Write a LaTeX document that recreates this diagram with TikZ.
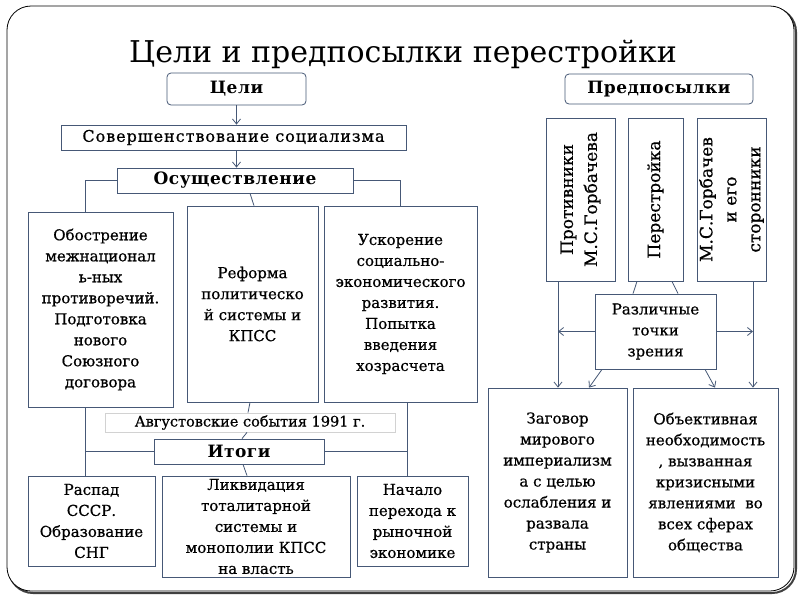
\documentclass[tikz,border=0pt]{standalone}
\usepackage{fontspec}
\setmainfont{DejaVu Serif}
\usetikzlibrary{arrows.meta}

\definecolor{slate}{RGB}{70,88,118}
\definecolor{pale}{RGB}{210,210,210}

\begin{document}
\begin{tikzpicture}[
  x=1pt, y=-1pt,
  box/.style={rectangle, draw=slate, line width=0.8pt, fill=white, align=center, inner sep=1pt,
    font=\fontsize{15}{21}\selectfont\addfontfeature{FakeBold=0.6}},
  tag/.style={box, rounded corners=4pt, font=\fontsize{17}{20}\selectfont\bfseries\addfontfeature{LetterSpace=3}},
  bar/.style={box, font=\fontsize{17}{20}\selectfont\bfseries\addfontfeature{LetterSpace=3}},
  side/.style={box, rotate=90, font=\fontsize{17}{24}\selectfont\addfontfeature{FakeBold=0.6}},
  link/.style={draw=slate, line width=0.8pt},
  arrow/.style={link, -{Straight Barb[length=5pt,width=8pt]}}
]

% Slide frame
\fill[white] (0,0) rectangle (800,600);
\draw[black!75, line width=2pt, rounded corners=24pt] (9,8) rectangle (796,593);
\draw[black, line width=0.8pt, fill=white, rounded corners=24pt] (7,6) rectangle (794,591);

% Title
\node[anchor=base, font=\fontsize{30}{36}\selectfont] (title) at (403,62) {Цели и предпосылки перестройки};

% Goals
\node[tag, minimum width=139, minimum height=32] (goals) at (236.5,89) {Цели};
\node[box, minimum width=345, minimum height=25, font=\fontsize{16}{18}\selectfont\addfontfeature{LetterSpace=6,FakeBold=0.6}] (perfect) at (233.5,137.5) {Совершенствование социализма};
\node[bar, minimum width=236, minimum height=25] (impl) at (235,180.5) {Осуществление};

\node[box, minimum width=145, minimum height=195] (nation) at (100.5,309.5)
  {Обострение\\межнационал\\ь-ных\\противоречий.\\Подготовка\\нового\\Союзного\\договора};
\node[box, minimum width=131, minimum height=196] (reform) at (252.5,304)
  {Реформа\\политическо\\й системы и\\КПСС};
\node[box, minimum width=153, minimum height=196] (accel) at (400.5,304)
  {Ускорение\\социально-\\экономического\\развития.\\Попытка\\введения\\хозрасчета};

% Results
\node[box, draw=pale, minimum width=290, minimum height=19, font=\fontsize{14.5}{16}\selectfont\addfontfeature{FakeBold=0.6}] (august) at (250,422.5) {Августовские события 1991 г.};
\node[bar, minimum width=170, minimum height=25] (results) at (239,451.5) {Итоги};

\node[box, minimum width=127, minimum height=90] (collapse) at (91.5,521)
  {Распад\\СССР.\\Образование\\СНГ};
\node[box, minimum width=188, minimum height=101] (liquid) at (256,526.5)
  {Ликвидация\\тоталитарной\\системы и\\монополии КПСС\\на власть};
\node[box, minimum width=111, minimum height=90] (market) at (412.5,521)
  {Начало\\перехода к\\рыночной\\экономике};

% Prerequisites
\node[tag, minimum width=188, minimum height=30] (prereq) at (659,89) {Предпосылки};
\node[side, minimum width=163, minimum height=69] (rivals) at (580.5,199.5) {Противники\\М.С.Горбачева};
\node[side, minimum width=163, minimum height=55] (pere) at (655.5,199.5) {Перестройка};
\node[side, minimum width=163, minimum height=69] (backers) at (731.5,199.5) {М.С.Горбачев\\и его\\сторонники};

\node[box, minimum width=121, minimum height=75] (views) at (655.5,331.5) {Различные\\точки\\зрения};

\node[box, minimum width=139, minimum height=189] (plot) at (557.5,482.5)
  {Заговор\\мирового\\империализм\\а с целью\\ослабления и\\развала\\страны};
\node[box, minimum width=145, minimum height=189] (need) at (705.5,482.5)
  {Объективная\\необходимость\\, вызванная\\кризисными\\явлениями~ во\\всех сферах\\общества};

% Connections, left
\draw[arrow] (goals.south) -- (goals.south |- perfect.north);
\draw[arrow] (goals.south |- perfect.south) -- (goals.south |- impl.north);
\draw[link] (impl.west) -| ([xshift=-15.5]nation.north);
\draw[link] (impl.east) -| (accel.north);
\draw[link] ([xshift=15]impl.south) -- ([xshift=1.5]reform.north);
\draw[link] ([xshift=-2.5]reform.south) -- ([xshift=-2]august.north);
\draw[link] ([xshift=-3]august.south) -- ([xshift=3]results.north);
\draw[link] ([xshift=4]results.south) -- ([xshift=-9]liquid.north);
\draw[link] ([xshift=-15.5]nation.south) -- ([xshift=-15.5]nation.south |- collapse.north);
\draw[link] (results.west) -- ([xshift=-15.5]nation.south |- results.west);
\draw[link] ([xshift=6.5]accel.south) -- ([xshift=6.5]accel.south |- market.north);
\draw[link] (results.east) -- ([xshift=6.5]accel.south |- results.east);

% Connections, right
\draw[arrow] ([xshift=-22.5]rivals.west) -- ([xshift=-22.5]rivals.west |- plot.north);
\draw[arrow] ([xshift=21.5]backers.west) -- ([xshift=21.5]backers.west |- need.north);
\draw[link] ([xshift=-18.5]pere.west) -- ([xshift=-22.5]views.north);
\draw[link] ([xshift=16.5]pere.west) -- ([xshift=22.5]views.north);
\draw[arrow] (views.west) -- ([xshift=-22.5]rivals.west |- views.west);
\draw[arrow] (views.east) -- ([xshift=21.5]backers.west |- views.east);
\draw[arrow] ([xshift=-53.5]views.south) -- ([xshift=31.5]plot.north);
\draw[arrow] ([xshift=49.5]views.south) -- ([xshift=9.5]need.north);

\end{tikzpicture}
\end{document}
